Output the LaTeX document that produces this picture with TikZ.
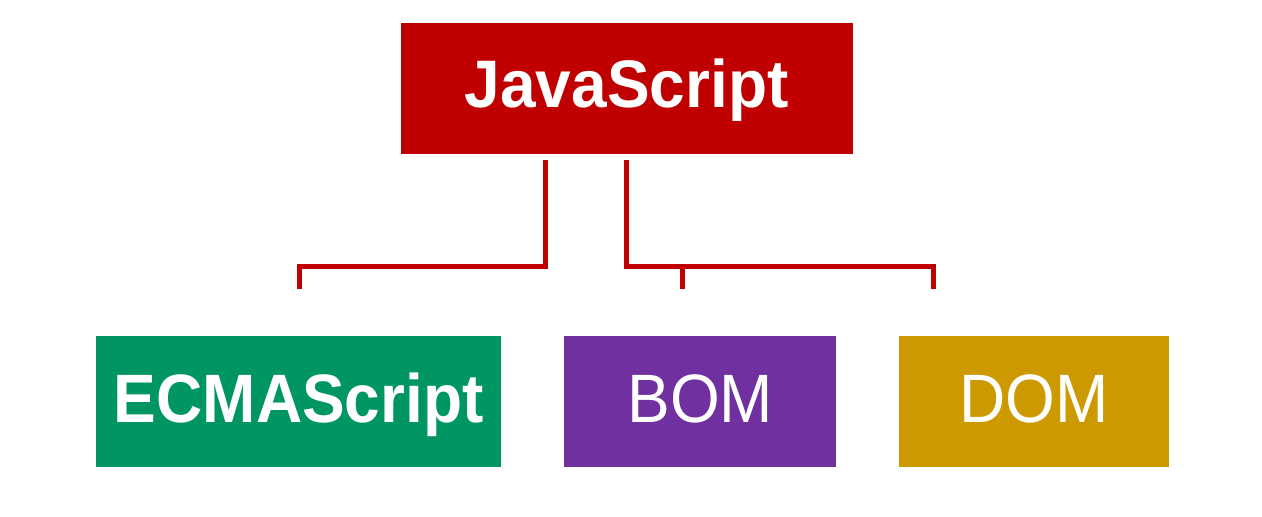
\documentclass[tikz,border=0pt]{standalone}
\usepackage{fontspec}
\setmainfont{Liberation Sans}
\definecolor{jsred}{HTML}{C00000}
\definecolor{esgreen}{HTML}{009663}
\definecolor{bompurple}{HTML}{7030A0}
\definecolor{domgold}{HTML}{CC9900}
\newcommand{\tallA}[1]{\scalebox{1}[1.05]{#1}}
\newcommand{\tallB}[1]{\scalebox{1}[1.07]{#1}}
\begin{document}
\begin{tikzpicture}[x=1pt,y=-1pt,
  box/.style={draw=none, inner sep=0pt, text=white, minimum height=131pt,
    font=\fontsize{64}{64}\selectfont},
  lowbox/.style={box, text height=49pt, text depth=8.6pt},
  conn/.style={draw=jsred, line width=5pt, line join=miter, line cap=butt}]
\useasboundingbox (0,0) rectangle (1262,517);
\node[box, fill=jsred, minimum width=452pt, text height=48.3pt, text depth=11.1pt,
  font=\fontsize{64}{64}\selectfont\bfseries] (js) at (626.7,88.7) {\tallA{JavaScript}};
\node[lowbox, fill=esgreen, minimum width=405pt,
  font=\fontsize{64}{64}\selectfont\bfseries] (es) at (298.8,401.8) {\tallB{ECMAScript}};
\node[lowbox, fill=bompurple, minimum width=271.7pt] (bom) at (700.2,401.8) {\tallB{BOM}};
\node[lowbox, fill=domgold, minimum width=270pt] (dom) at (1034.3,401.8) {\tallB{DOM}};
\coordinate (cL) at (299,266.5);
\coordinate (cR) at (933,266.5);
\coordinate (cM) at (682.5,266.5);
\coordinate (eL) at (299,289);
\coordinate (eM) at (682.5,289);
\coordinate (eR) at (933,289);
\draw[conn] ([xshift=-81pt,yshift=-6pt]js.south) |- (cL) -- (eL);
\draw[conn] ([yshift=-6pt]js.south) |- (cR) -- (eR);
\draw[conn] (cM) -- (eM);
\end{tikzpicture}
\end{document}
